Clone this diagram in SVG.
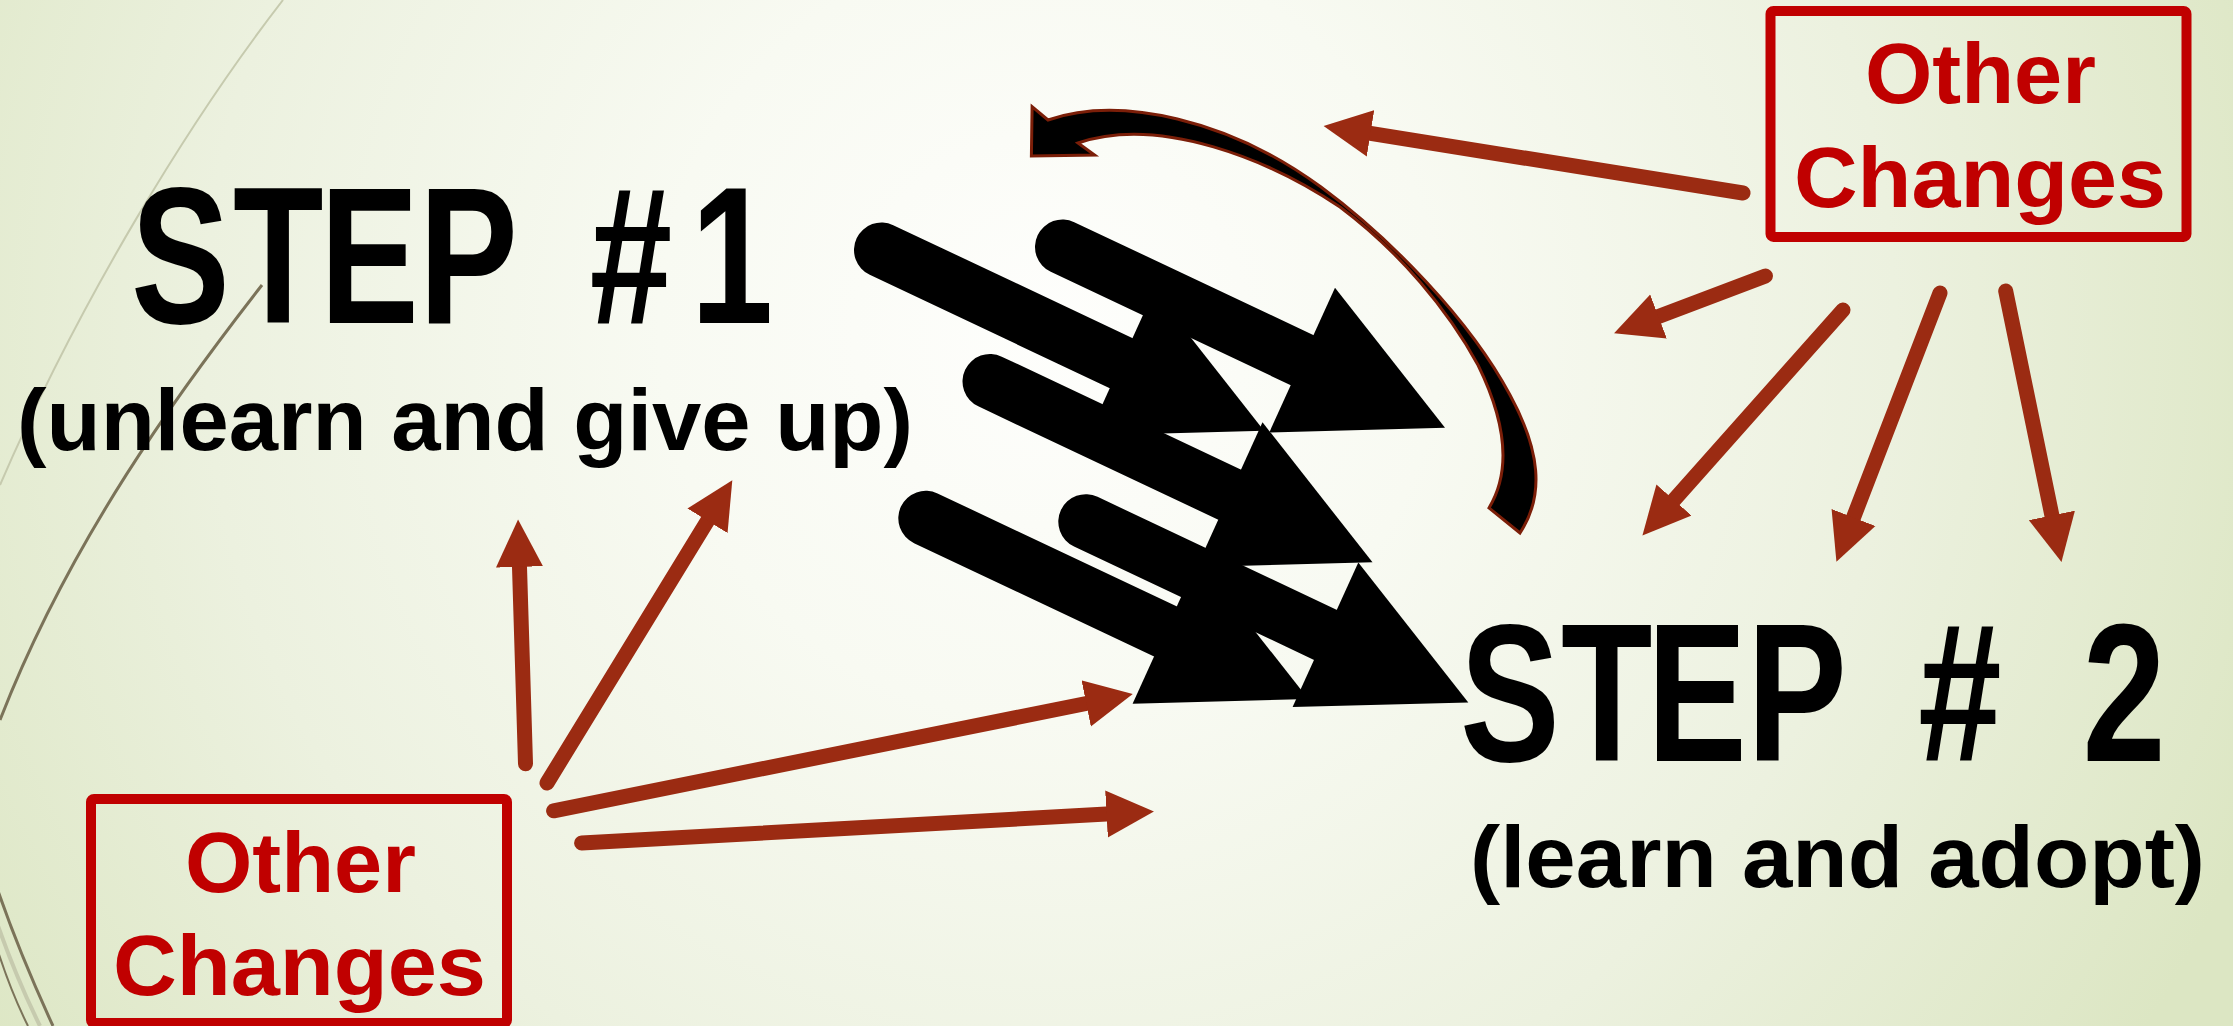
<svg xmlns="http://www.w3.org/2000/svg" width="2233" height="1026" viewBox="0 0 2233 1026">
<defs>
  <radialGradient id="bg" cx="1050" cy="330" r="1300" gradientUnits="userSpaceOnUse">
    <stop offset="0" stop-color="#fefefc"/>
    <stop offset="0.3" stop-color="#f8faf2"/>
    <stop offset="0.65" stop-color="#ecf1df"/>
    <stop offset="1" stop-color="#dce6c3"/>
  </radialGradient>
  <marker id="redHead" markerUnits="userSpaceOnUse" markerWidth="48" markerHeight="48" viewBox="0 -24 48 48" refX="0" refY="0" orient="auto">
    <path d="M0,-23.5 L47.5,0 L0,23.5 Z" fill="#9b2b12"/>
  </marker>
  <g id="bigArrow">
    <path d="M0,0 L239.5,113.1" stroke="#000" stroke-width="55" stroke-linecap="round" fill="none"/>
    <polygon points="272.5,40.8 382.5,180.8 206.8,185.4" fill="#000"/>
  </g>
</defs>
<style>
  .red { stroke:#9b2b12; stroke-width:15; stroke-linecap:round; fill:none; marker-end:url(#redHead); }
  .box { fill:none; stroke:#c00000; stroke-width:10; }
  .boxtxt { font-family:"Liberation Sans", Arial, sans-serif; font-weight:bold; font-size:86px; fill:#c00000; }
  .big { font-family:"Liberation Sans", Arial, sans-serif; font-weight:bold; fill:#000; }
  .decoLight { fill:none; stroke:#c6caae; stroke-width:2; }
  .decoDark { fill:none; stroke:#7b7359; stroke-width:3; }
  .curved { fill:#000; stroke:#7b1e08; stroke-width:3; stroke-linejoin:miter; }
</style>

<rect x="0" y="0" width="2233" height="1026" fill="url(#bg)"/>

<g id="decoration">
  <path class="decoLight" d="M283,0 C190,120 80,300 0,485"/>
  <path class="decoDark" d="M262,285 C180,390 70,540 0,720"/>
  <path class="decoDark" d="M-4,885 Q18,950 53,1026"/>
  <path class="decoLight" d="M-4,920 Q15,975 40,1026" style="stroke-width:4"/>
  <path class="decoDark" d="M-4,945 Q10,990 28,1026" style="stroke-width:2"/>
</g>

<g id="connectors">
  <g id="black-arrows">
    <use href="#bigArrow" x="881.5" y="250"/>
    <use href="#bigArrow" x="1062.5" y="247"/>
    <use href="#bigArrow" x="990" y="381.5"/>
    <use href="#bigArrow" x="925.8" y="518.3"/>
    <use href="#bigArrow" x="1085.8" y="521.7"/>
  </g>
  <path id="curved-arrow" class="curved" d="M1048,120 C1120,95 1230,120 1321,187 C1390,238 1470,320 1510,395 C1540,450 1545,495 1520,533 L1489,508 C1512,470 1505,420 1478,365 C1448,310 1400,252 1340,207 C1270,160 1160,115 1078,143 L1094.6,155 L1031.4,156 L1032.1,106.7 Z"/>
  <g id="red-arrows">
    <path class="red" d="M1743,193 L1370.5,133.4"/>
    <path class="red" d="M1765.5,276 L1658.5,316.5"/>
    <path class="red" d="M1843,310 L1674,500"/>
    <path class="red" d="M1940,293 L1853.5,517.5"/>
    <path class="red" d="M2005.7,291 L2051.9,515.4"/>
    <path class="red" d="M525.5,763.8 L519.5,566.9"/>
    <path class="red" d="M547,783 L707.5,520.8"/>
    <path class="red" d="M553.6,810.8 L1086.2,703.5"/>
    <path class="red" d="M581.6,843 L1106.5,814"/>
  </g>
</g>

<g id="step1">
  <text class="big" transform="translate(0,323) scale(0.76,1)" font-size="195" x="172.4 306.6 421.1 551.3 672.4 776 909" y="0">STEP #1</text>
  <text class="big" x="17" y="450" font-size="88" textLength="896" lengthAdjust="spacingAndGlyphs">(unlearn and give up)</text>
</g>

<g id="step2">
  <text class="big" transform="translate(0,761) scale(0.76,1)" font-size="197" x="1921.1 2053.9 2167.1 2298.7 2421 2524 2631.6 2740" y="0">STEP # 2</text>
  <text class="big" x="1470" y="887" font-size="88" textLength="735" lengthAdjust="spacingAndGlyphs">(learn and adopt)</text>
</g>

<g id="other-changes-top">
  <rect class="box" x="1770.5" y="10.9" width="416" height="226" rx="3"/>
  <text class="boxtxt" x="1865" y="103" textLength="231" lengthAdjust="spacingAndGlyphs">Other</text>
  <text class="boxtxt" x="1794" y="207" textLength="372" lengthAdjust="spacingAndGlyphs">Changes</text>
</g>

<g id="other-changes-bottom">
  <rect class="box" x="91" y="799" width="416" height="224" rx="3"/>
  <text class="boxtxt" x="185" y="892" textLength="231" lengthAdjust="spacingAndGlyphs">Other</text>
  <text class="boxtxt" x="113" y="995" textLength="373" lengthAdjust="spacingAndGlyphs">Changes</text>
</g>
</svg>
